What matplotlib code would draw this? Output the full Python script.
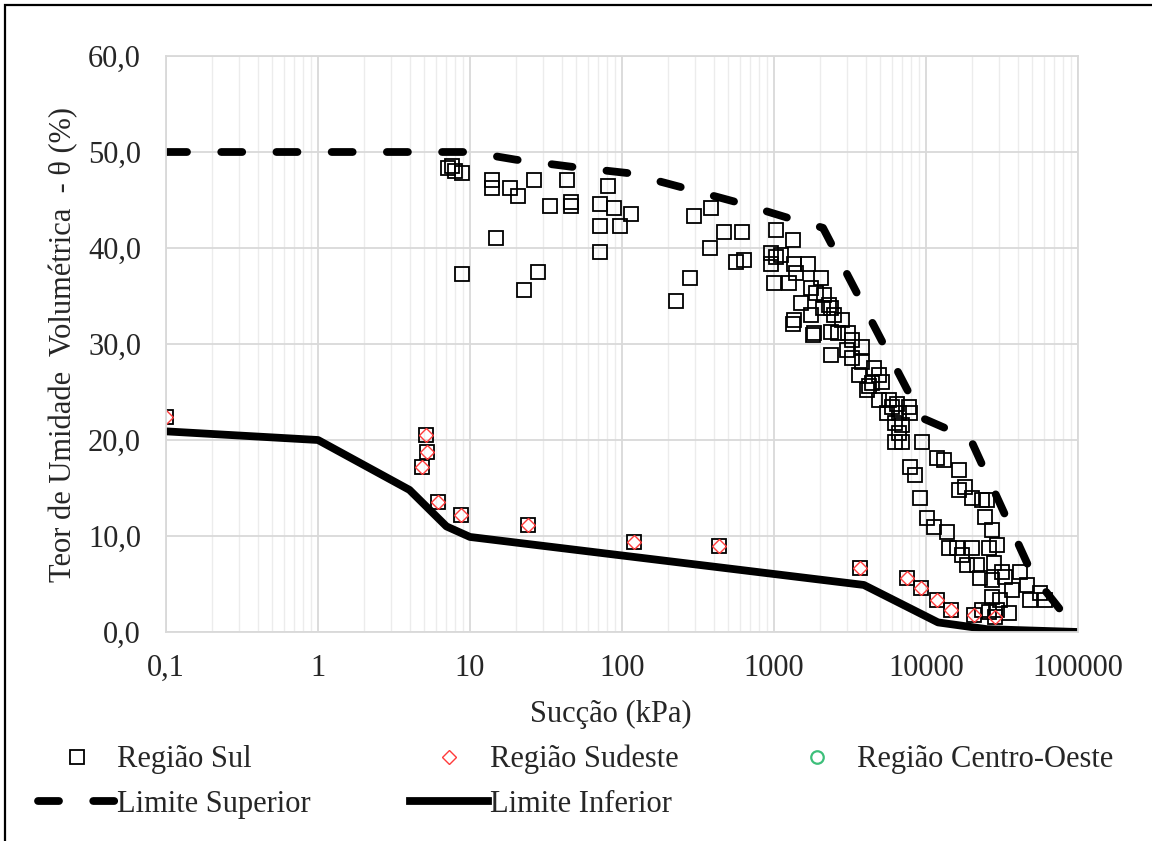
import matplotlib.pyplot as plt
from matplotlib.patches import Rectangle
from matplotlib.ticker import FixedLocator, FuncFormatter, LogLocator, NullFormatter

plt.rcParams['font.family'] = ['Liberation Serif', 'DejaVu Serif']

# --- Região Sul (kPa, %) ---
sul_succao = [
    7.2, 7.6, 8.0, 8.8, 13.9, 13.9, 18.2, 20.6, 26.3, 33.5, 43.4, 46, 46, 81, 71.6,
    88.5, 115, 71.6, 97, 71.6, 14.8, 8.8, 27.9, 22.6, 299, 386, 280, 227, 380, 470,
    618, 565, 637,
    1035, 1340, 960, 1035, 1117, 960, 1360, 1683, 1004, 1262, 1403, 2052, 1763, 1902,
    2148, 1514, 2318, 2115, 1360, 2500, 1763, 2389, 1845, 2389, 2655, 3090, 2389, 3000,
    3237, 3769, 3769, 3597, 4518, 4874, 4387, 5107, 4874, 5675, 7690, 6414, 4188, 5945,
    5510, 6607, 7798, 6213, 6920, 6607, 6213, 6920, 9377, 7798, 11777, 13066, 16406,
    8414, 16406, 17990, 20043, 23332, 25174, 24380, 27161, 9080, 10117, 11220, 13709,
    14100, 15958, 20043, 25880, 18577, 21625, 27930, 31618, 41400, 22600, 27161, 33000,
    46229, 56100, 48200, 27161, 30600, 25880, 35100, 60500, 1340, 1817, 2781, 3237,
    4066, 17218, 29305, 36807, 29305, 23332,
    0.1, 5.1, 5.2, 4.8, 6.2, 8.7, 24, 120, 437, 3660, 7450, 9230, 11750, 14550,
    20600, 28400,
]
sul_teor = [
    48.3, 48.5, 48.0, 47.8, 47.1, 46.2, 46.25, 45.4, 47.1, 44.4, 47.1, 44.8, 44.4, 46.5,
    44.6, 44.2, 43.5, 42.3, 42.3, 39.6, 41.0, 37.3, 37.5, 35.6, 43.3, 44.2, 36.9, 34.5,
    40.0, 41.7, 41.7, 38.5, 38.75,
    41.9, 40.8, 39.5, 39.1, 39.3, 38.3, 38.3, 38.3, 36.4, 36.4, 37.4, 36.9, 35.8, 35.3,
    35.1, 34.3, 34.1, 33.75, 32.5, 33.0, 33.0, 33.75, 31.1, 31.25, 31.1, 31.1, 28.9, 29.4,
    28.5, 29.7, 28.1, 26.8, 27.5, 26.8, 25.9, 26.0, 24.2, 24.2, 23.4, 23.8, 25.6, 23.4,
    22.8, 22.8, 22.8, 21.8, 21.6, 20.7, 19.8, 19.8, 19.8, 17.2, 18.1, 17.9, 16.9,
    16.35, 14.8, 15.1, 14.0, 13.75, 13.75, 12.0, 10.6, 14.0, 11.9, 10.9, 10.4,
    8.75, 8.75, 8.75, 8.75, 7.0, 7.0, 7.2, 6.25, 6.25, 5.6, 5.4, 5.7,
    4.9, 4.1, 3.3, 3.6, 3.3, 2.1, 2.0, 3.3, 32.1, 30.9, 32.5, 30.4,
    25.2, 8.0, 9.1, 4.4, 2.3, 2.3,
    22.4, 20.5, 18.75, 17.2, 13.5, 12.2, 11.1, 9.4, 9.0, 6.7, 5.6, 4.6, 3.3, 2.3,
    1.8, 1.6,
]

# --- Região Sudeste ---
sudeste_succao = [0.1, 5.1, 5.2, 4.8, 6.2, 8.7, 24, 120, 437, 3660, 7450, 9230, 11750,
                  14550, 20600, 28400]
sudeste_teor = [22.4, 20.5, 18.75, 17.2, 13.5, 12.2, 11.1, 9.4, 9.0, 6.7, 5.6, 4.6, 3.3,
                2.3, 1.8, 1.6]

# --- Região Centro-Oeste (no points in range) ---
centro_succao = []
centro_teor = []

# --- envelopes ---
sup_succao = [0.1, 10, 20, 50, 110, 250, 560, 1260, 2100, 9400, 19600, 50000, 100000]
sup_teor = [50, 50, 49.2, 48.4, 47.8, 46.3, 44.8, 43.1, 42.1, 22.3, 20.1, 6.0, 0]

inf_succao = [0.1, 1, 4, 7, 10, 3900, 12000, 25000, 100000]
inf_teor = [20.9, 20.0, 14.8, 11.0, 9.9, 4.9, 1.0, 0.3, 0]

x_ticks = [0.1, 1, 10, 100, 1000, 10000, 100000]
y_ticks = [0, 10, 20, 30, 40, 50, 60]

FS = 22
TXT = '#262626'

fig = plt.figure(figsize=(11.52, 8.41), dpi=100)
ax = fig.add_axes([166 / 1152, 1 - 632 / 841, 912 / 1152, 576 / 841])

sul, = ax.plot(sul_succao, sul_teor, ls='none', marker='s', ms=10.4, mfc='none',
               mec='black', mew=1.3, label='Região Sul')
sud, = ax.plot(sudeste_succao, sudeste_teor, ls='none', marker='D', ms=7.6, mfc='none',
               mec='#FF3B3B', mew=1.0, label='Região Sudeste')
co, = ax.plot(centro_succao, centro_teor, ls='none', marker='o', ms=9, mfc='none',
              mec='#3DBF7A', mew=1.6, label='Região Centro-Oeste')
sup, = ax.plot(sup_succao, sup_teor, color='black', lw=5.6, ls=(0, (2.7, 4.4)),
               dash_capstyle='round', label='Limite Superior')
inf, = ax.plot(inf_succao, inf_teor, color='black', lw=5.6, solid_joinstyle='round',
               label='Limite Inferior')

ax.set_xscale('log')
ax.set_xlim(0.1, 100000)
ax.set_ylim(0, 60)

ax.xaxis.set_major_locator(FixedLocator(x_ticks))
ax.xaxis.set_minor_locator(LogLocator(base=10, subs=range(2, 10), numticks=20))
ax.xaxis.set_minor_formatter(NullFormatter())
ax.xaxis.set_major_formatter(FuncFormatter(
    lambda v, p: f'{v:g}'.replace('.', ',') if v < 1 else f'{int(round(v))}'))
ax.yaxis.set_major_locator(FixedLocator(y_ticks))
ax.yaxis.set_major_formatter(FuncFormatter(lambda v, p: f'{v:.1f}'.replace('.', ',')))

ax.grid(True, which='major', color='#D9D9D9', lw=1.3)
ax.grid(True, which='minor', axis='x', color='#ECECEC', lw=1.0)
ax.set_axisbelow(True)
for s in ax.spines.values():
    s.set_color('#D9D9D9')
    s.set_linewidth(1.3)

ax.tick_params(which='both', length=0, labelsize=FS, colors=TXT)
ax.tick_params(axis='x', pad=16)
ax.tick_params(axis='y', pad=18)

ax.set_xlabel('Sucção (kPa)', fontsize=FS, color=TXT)
ax.xaxis.set_label_coords(0.488, -0.118)
ax.set_ylabel('Teor de Umidade  Volumétrica  - θ (%)', fontsize=FS, color=TXT,
              labelpad=7)

fig.legend(handles=[sul, sup, sud, inf, co], ncol=3, loc='upper left',
           bbox_to_anchor=(38 / 1152, 1 - 745 / 841), frameon=False, fontsize=FS,
           handlelength=2.55, handletextpad=0.05, columnspacing=3.25,
           labelspacing=0.5, borderpad=0, borderaxespad=0, labelcolor=TXT)

# outer frame
fig.patches.append(Rectangle((5 / 1152, -0.1), 1.2, 1.1 - 5 / 841,
                             transform=fig.transFigure, fill=False, ec='black', lw=1.6))

fig.savefig('out.png', dpi=100)
